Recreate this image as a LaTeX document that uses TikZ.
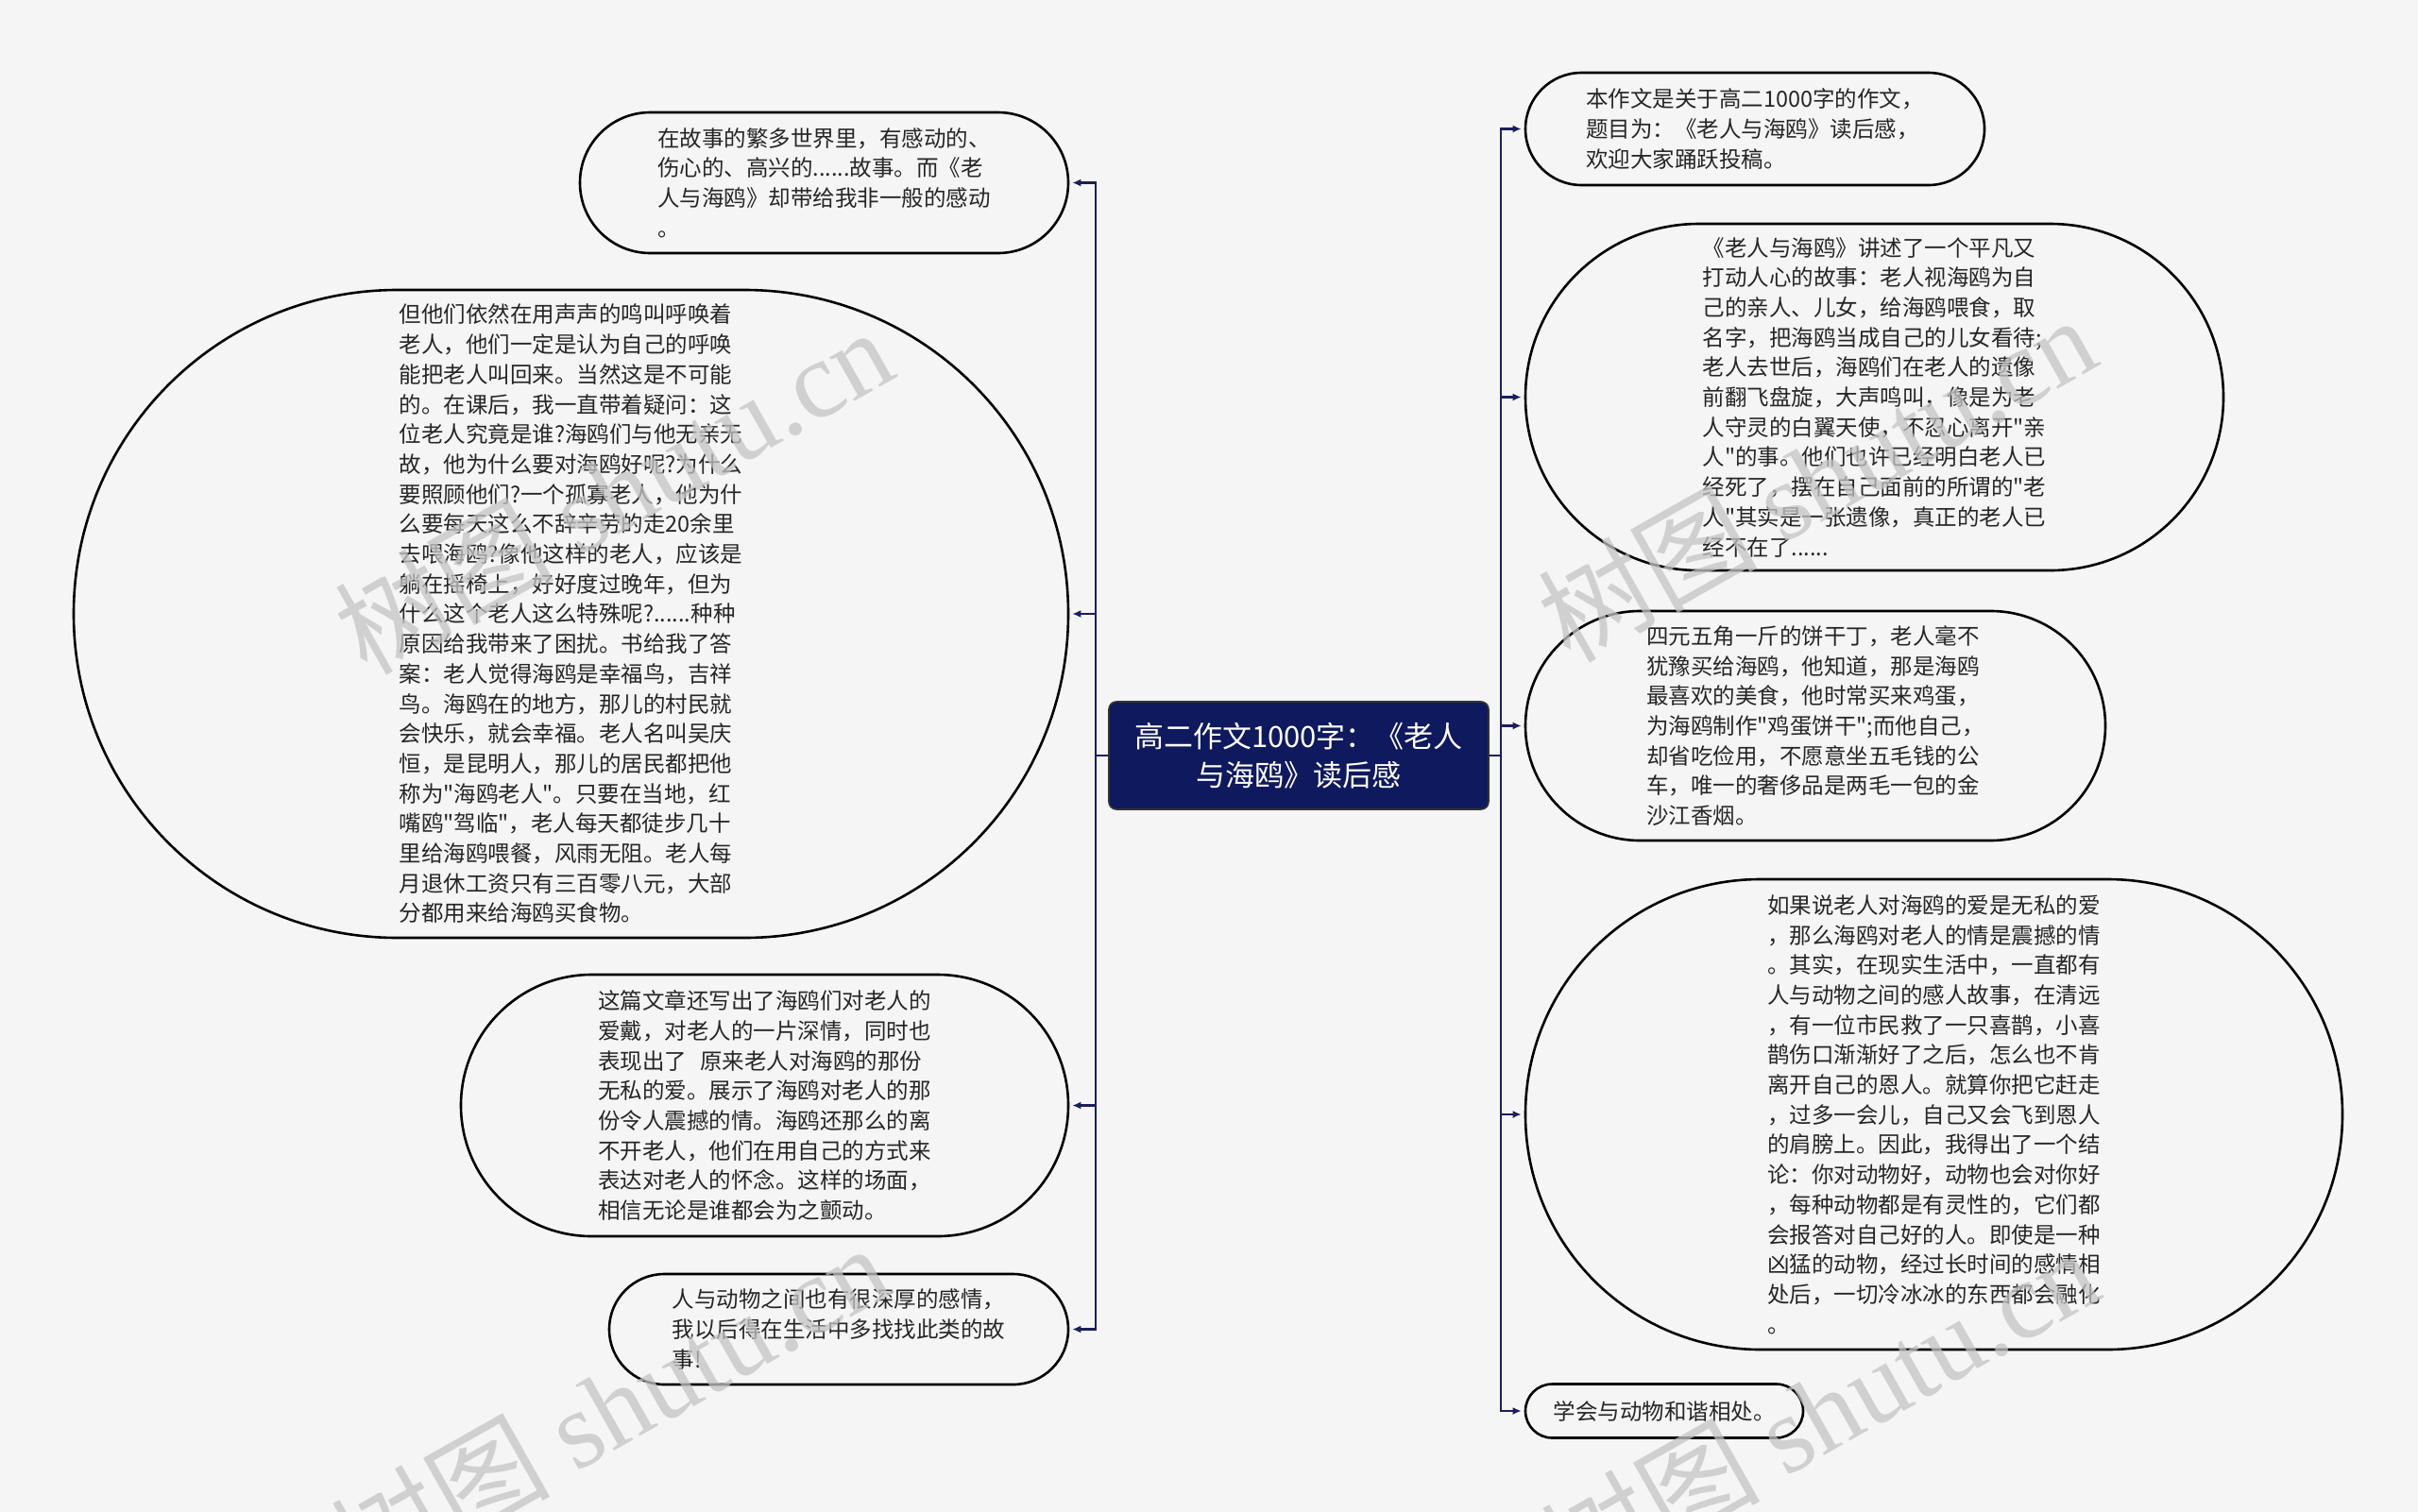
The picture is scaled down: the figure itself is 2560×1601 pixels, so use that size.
\documentclass[tikz,border=0pt]{standalone}
\usepackage{fontspec}
\newfontfamily\cjkfont{Noto Sans CJK SC}
\newfontfamily\wmlatin{Liberation Serif}
\usetikzlibrary{arrows.meta}

\definecolor{bgc}{RGB}{245,245,245}
\definecolor{navy}{RGB}{15,25,94}
\definecolor{spinec}{RGB}{27,31,90}
\definecolor{wmc}{RGB}{196,196,196}

\tikzset{
  bubble/.style={draw=black, line width=1.3pt, fill=bgc, align=left, inner sep=0pt,
    text=black!85, font=\cjkfont\fontsize{11.75pt}{15.85pt}\selectfont},
  link/.style={draw=spinec, line width=1.4pt},
  tolink/.style={link, -{Latex[length=4.5pt,width=4pt]}, shorten >=1.5pt},
  wmark/.style={text=wmc, opacity=0.75, rotate=29.5, font=\cjkfont\fontsize{58pt}{60pt}\selectfont}
}

\begin{document}
\begin{tikzpicture}[x=0.5pt, y=-0.5pt]
  \useasboundingbox (0,0) rectangle (2560,1601);
  \fill[bgc] (0,0) rectangle (2560,1601);

  % centre topic
  \node[draw=black!80, line width=0.8pt, fill=navy, rounded corners=4pt, text=white,
        minimum width=201pt, minimum height=57pt, align=center,
        font=\cjkfont\fontsize{15.5pt}{20.5pt}\selectfont] (main) at (1375,800)
        {高二作文1000字：《老人\\与海鸥》读后感};

  % left side
  \node[bubble, minimum width=258.5pt, minimum height=74.5pt, rounded corners=37.2pt] (left1) at (872.5,193.5)
    {在故事的繁多世界里，有感动的、\\伤心的、高兴的......故事。而《老\\人与海鸥》却带给我非一般的感动\\。};
  \node[bubble, minimum width=526.5pt, minimum height=343pt, rounded corners=171.4pt] (left2) at (604.5,650)
    {但他们依然在用声声的鸣叫呼唤着\\老人，他们一定是认为自己的呼唤\\能把老人叫回来。当然这是不可能\\的。在课后，我一直带着疑问：这\\位老人究竟是谁?海鸥们与他无亲无\\故，他为什么要对海鸥好呢?为什么\\要照顾他们?一个孤寡老人，他为什\\么要每天这么不辞辛劳的走20余里\\去喂海鸥?像他这样的老人，应该是\\躺在摇椅上，好好度过晚年，但为\\什么这个老人这么特殊呢?......种种\\原因给我带来了困扰。书给我了答\\案：老人觉得海鸥是幸福鸟，吉祥\\鸟。海鸥在的地方，那儿的村民就\\会快乐，就会幸福。老人名叫吴庆\\恒，是昆明人，那儿的居民都把他\\称为"海鸥老人"。只要在当地，红\\嘴鸥"驾临"，老人每天都徒步几十\\里给海鸥喂餐，风雨无阻。老人每\\月退休工资只有三百零八元，大部\\分都用来给海鸥买食物。};
  \node[bubble, minimum width=321.5pt, minimum height=138.5pt, rounded corners=69.2pt] (left3) at (809.5,1170.5)
    {这篇文章还写出了海鸥们对老人的\\爱戴，对老人的一片深情，同时也\\表现出了\hspace{0.6em}原来老人对海鸥的那份\\无私的爱。展示了海鸥对老人的那\\份令人震撼的情。海鸥还那么的离\\不开老人，他们在用自己的方式来\\表达对老人的怀念。这样的场面，\\相信无论是谁都会为之颤动。};
  \node[bubble, minimum width=243pt, minimum height=58.5pt, rounded corners=29.2pt] (left4) at (888,1407.5)
    {人与动物之间也有很深厚的感情，\\我以后得在生活中多找找此类的故\\事!};

  % right side
  \node[bubble, minimum width=243pt, minimum height=59.5pt, rounded corners=29.7pt] (right1) at (1858,136.5)
    {本作文是关于高二1000字的作文，\\题目为：《老人与海鸥》读后感，\\欢迎大家踊跃投稿。};
  \node[bubble, minimum width=369.5pt, minimum height=183.5pt, rounded corners=91.7pt] (right2) at (1984.5,420.5)
    {《老人与海鸥》讲述了一个平凡又\\打动人心的故事：老人视海鸥为自\\己的亲人、儿女，给海鸥喂食，取\\名字，把海鸥当成自己的儿女看待;\\老人去世后，海鸥们在老人的遗像\\前翻飞盘旋，大声鸣叫，像是为老\\人守灵的白翼天使，不忍心离开"亲\\人"的事。他们也许已经明白老人已\\经死了，摆在自己面前的所谓的"老\\人"其实是一张遗像，真正的老人已\\经不在了......};
  \node[bubble, minimum width=307pt, minimum height=121.5pt, rounded corners=60.7pt] (right3) at (1922,768.5)
    {四元五角一斤的饼干丁，老人毫不\\犹豫买给海鸥，他知道，那是海鸥\\最喜欢的美食，他时常买来鸡蛋，\\为海鸥制作"鸡蛋饼干";而他自己，\\却省吃俭用，不愿意坐五毛钱的公\\车，唯一的奢侈品是两毛一包的金\\沙江香烟。};
  \node[bubble, minimum width=432.5pt, minimum height=249pt, rounded corners=124.4pt] (right4) at (2047.5,1180)
    {如果说老人对海鸥的爱是无私的爱\\，那么海鸥对老人的情是震撼的情\\。其实，在现实生活中，一直都有\\人与动物之间的感人故事，在清远\\，有一位市民救了一只喜鹊，小喜\\鹊伤口渐渐好了之后，怎么也不肯\\离开自己的恩人。就算你把它赶走\\，过多一会儿，自己又会飞到恩人\\的肩膀上。因此，我得出了一个结\\论：你对动物好，动物也会对你好\\，每种动物都是有灵性的，它们都\\会报答对自己好的人。即使是一种\\凶猛的动物，经过长时间的感情相\\处后，一切冷冰冰的东西都会融化\\。};
  \node[bubble, minimum width=147pt, minimum height=28.5pt, rounded corners=14.2pt] (right5) at (1762,1494)
    {学会与动物和谐相处。};

  % connectors
  \coordinate (lhub) at (1160,800);
  \coordinate (rhub) at (1589,800);
  \draw[link] (main.west) -- (lhub);
  \draw[link] (main.east) -- (rhub);
  \foreach \n in {left1,left2,left3,left4}
    \draw[tolink] (lhub) |- (\n.east);
  \foreach \n in {right1,right2,right3,right4,right5}
    \draw[tolink] (rhub) |- (\n.west);

  % watermark
  \node[wmark] (wm1) at (649,519) {树图 {\wmlatin shutu.cn}};
  \node[wmark] (wm2) at (1923,506) {树图 {\wmlatin shutu.cn}};
  \node[wmark] (wm3) at (645,1489) {树图 {\wmlatin shutu.cn}};
  \node[wmark] (wm4) at (1926,1494) {树图 {\wmlatin shutu.cn}};
\end{tikzpicture}
\end{document}
